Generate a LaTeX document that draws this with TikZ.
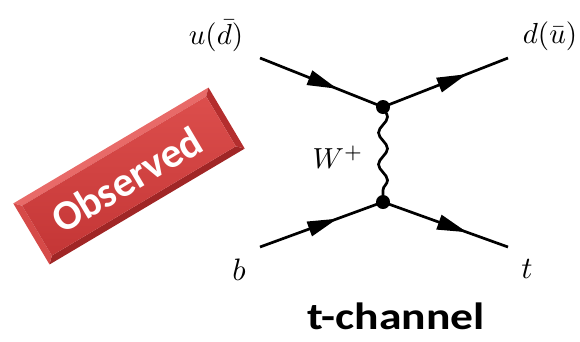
\documentclass[tikz,border=0pt]{standalone}
\usepackage{fontspec}
\newfontfamily\calibri{Carlito}
\usetikzlibrary{arrows.meta,decorations.markings,decorations.pathmorphing}

\definecolor{faceTop}{RGB}{220,78,76}
\definecolor{faceBot}{RGB}{196,54,54}
\definecolor{bevelLight}{RGB}{232,106,104}
\definecolor{bevelDark}{RGB}{160,38,38}
\definecolor{bevelLeft}{RGB}{214,74,72}
\definecolor{bevelRight}{RGB}{180,46,46}

\begin{document}
\begin{tikzpicture}[x=1pt,y=1pt,
  fermion/.style={line width=2.7pt, postaction={decorate},
    decoration={markings, mark=at position 0.5 with
      {\arrow[xshift=#1]{Triangle[length=30pt,width=15pt]}}}},
  fermion/.default=17pt,
  boson/.style={line width=2.7pt, decorate,
    decoration={snake, amplitude=4.5pt, segment length=31.67pt}},
  vertex/.style={circle, fill=black, inner sep=0pt, minimum size=14pt},
  mathlabel/.style={inner sep=0pt},
  badgetext/.style={text=white, font=\calibri\bfseries\fontsize{42}{46}\selectfont}]
\useasboundingbox (0,0) rectangle (580,-341);

% external legs and vertices
\coordinate (i1) at (260,-58);
\coordinate (i2) at (260,-247);
\coordinate (f1) at (508,-58);
\coordinate (f2) at (508,-247);
\node[vertex] (v1) at (383,-107) {};
\node[vertex] (v2) at (383,-202) {};

\draw[fermion] (i1) -- (v1.center);
\draw[fermion=23pt] (v1.center) -- (f1);
\draw[fermion] (i2) -- (v2.center);
\draw[fermion=23pt] (v2.center) -- (f2);
\draw[boson] (v1.center) -- (v2.center);

% particle labels
\node[mathlabel, scale=2.9] (lu) at (216,-36) {$u(\bar d)$};
\node[mathlabel, scale=2.9] (ld) at (550,-36) {$d(\bar u)$};
\node[mathlabel, scale=3.1] (lb) at (239,-270) {$b$};
\node[mathlabel, scale=3.1] (lt) at (527,-269) {$t$};
\node[mathlabel, scale=2.9] (lw) at (338,-157) {$W^+$};

% channel caption
\node[xscale=1.2] (cap) at (396,-316) {\calibri\bfseries\fontsize{38}{42}\selectfont t-channel};

% bevelled badge
\begin{scope}[shift={(129,-176)}, rotate=30.7]
  \fill[bevelLight] (-113.5,35.5) -- (113.5,35.5) -- (107,29) -- (-107,29) -- cycle;
  \fill[bevelDark] (-113.5,-35.5) -- (113.5,-35.5) -- (107,-29) -- (-107,-29) -- cycle;
  \fill[bevelLeft] (-113.5,-35.5) -- (-113.5,35.5) -- (-107,29) -- (-107,-29) -- cycle;
  \fill[bevelRight] (113.5,-35.5) -- (113.5,35.5) -- (107,29) -- (107,-29) -- cycle;
  \shade[top color=faceTop, bottom color=faceBot] (-107,-29) rectangle (107,29);
  \node[badgetext, transform shape] (obs) at (-4,-2) {Observed};
\end{scope}
\end{tikzpicture}
\end{document}
